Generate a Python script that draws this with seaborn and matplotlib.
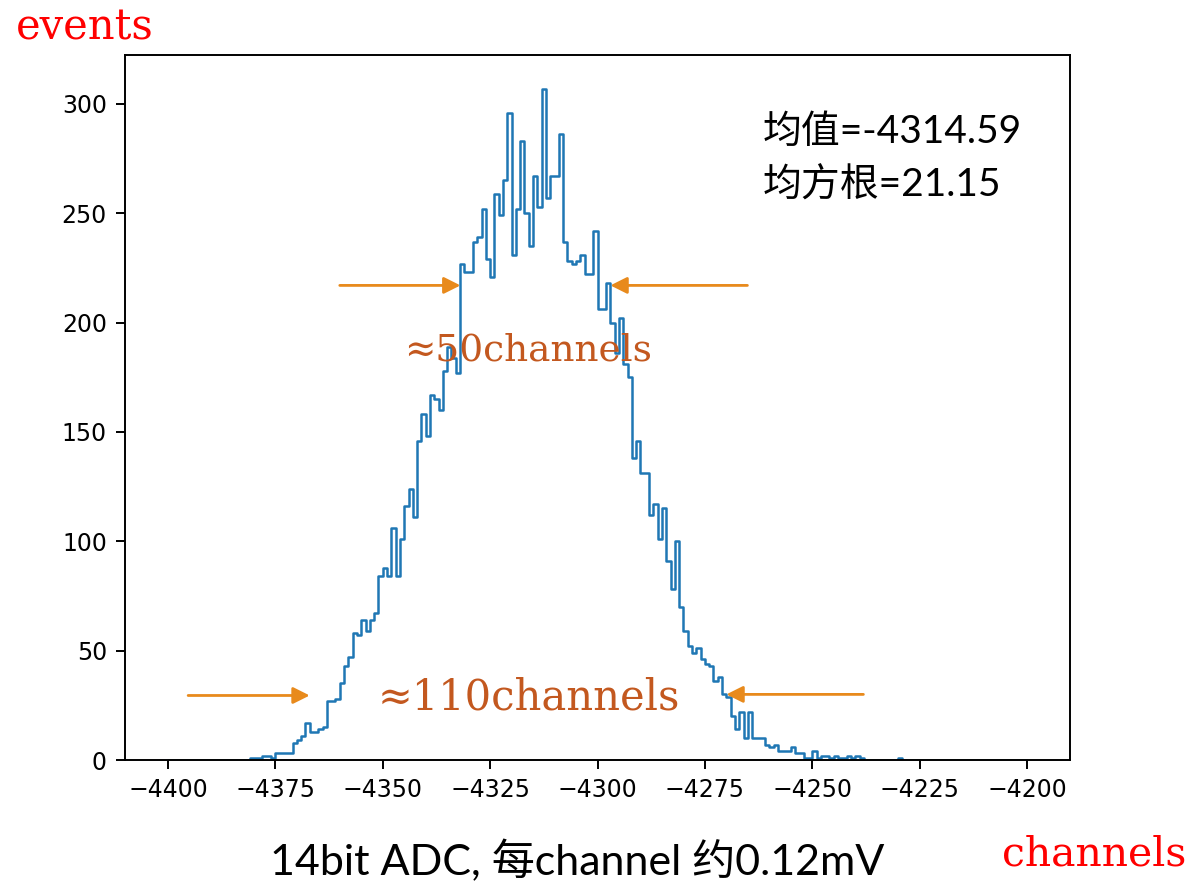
import numpy as np
import pandas as pd
import matplotlib
matplotlib.use("Agg")
import matplotlib.pyplot as plt
import seaborn as sns

# ---------------- data ----------------
first_channel = -4381
counts = [
    1, 1, 1, 2, 2, 1, 3, 3, 3, 3,                 # -4381 .. -4372
    8, 9, 11, 17, 13, 13, 14, 15, 27, 27,         # -4371 .. -4362
    28, 35, 43, 47, 58, 57, 64, 59, 64, 67,       # -4361 .. -4352
    84, 88, 84, 106, 84, 101, 116, 124, 111, 146, # -4351 .. -4342
    158, 148, 167, 165, 160, 178, 189, 184, 177, 227,  # -4341 .. -4332
    223, 223, 237, 239, 252, 229, 221, 259, 249, 265,  # -4331 .. -4322
    296, 231, 252, 283, 250, 235, 267, 253, 307, 257,  # -4321 .. -4312
    267, 267, 286, 237, 228, 227, 228, 231, 222, 222,  # -4311 .. -4302
    242, 206, 206, 218, 200, 186, 202, 181, 175, 138,  # -4301 .. -4292
    146, 131, 131, 112, 117, 101, 115, 91, 78, 100,    # -4291 .. -4282
    70, 59, 52, 49, 51, 46, 44, 43, 36, 38,            # -4281 .. -4272
    30, 29, 20, 14, 22, 10, 22, 10, 10, 10,            # -4271 .. -4262
    7, 6, 7, 4, 4, 4, 6, 3, 3, 1,                      # -4261 .. -4252
    1, 4, 1, 2, 2, 1, 2, 1, 1, 2,                      # -4251 .. -4242
    1, 2, 1, 0, 0, 0, 0, 0, 0, 0,                      # -4241 .. -4232
    0, 1,                                              # -4231 .. -4230
]
channels = np.arange(first_channel, first_channel + len(counts))
hist_range = [-4400, -4200]
x_ticks = [-4400, -4375, -4350, -4325, -4300, -4275, -4250, -4225, -4200]
y_ticks = [0, 50, 100, 150, 200, 250, 300]

mean_label = "均值=-4314.59"
rms_label = "均方根=21.15"
x_caption = "14bit ADC, 每channel 约0.12mV"
y_unit = "events"
x_unit = "channels"
fwhm_label = "≈50channels"
fwtm_label = "≈110channels"
# arrow (tail, tip) pairs in data units
fwhm_arrows = [((-4360.0, 217), (-4331.9, 217)), ((-4265.1, 217), (-4297.0, 217))]
fwtm_arrows = [((-4395.3, 29.5), (-4367.0, 29.5)), ((-4238.1, 30), (-4270.0, 30))]

# ---------------- style ----------------
W, H = 1194, 881
sns.set_theme(style="ticks", rc={
    "axes.edgecolor": "black",
    "axes.linewidth": 1.4,
    "xtick.color": "black",
    "ytick.color": "black",
    "xtick.major.size": 6.5,
    "ytick.major.size": 6.5,
    "xtick.major.width": 1.4,
    "ytick.major.width": 1.4,
    "xtick.major.pad": 6.5,
    "ytick.major.pad": 6.5,
    "xtick.labelsize": 17,
    "ytick.labelsize": 17,
})
plt.rcParams["font.family"] = ["DejaVu Sans"]

fig = plt.figure(figsize=(W / 100, H / 100), dpi=100)
fig.patch.set_facecolor("white")
ax = fig.add_axes([125 / W, 1 - 760 / H, (1070 - 125) / W, (760 - 55) / H])

df = pd.DataFrame({"channel": channels + 0.5, "count": counts})
sns.histplot(data=df, x="channel", weights="count", binwidth=1,
             binrange=(hist_range[0], hist_range[1]), element="step",
             fill=False, color="#1f77b4", linewidth=1.8, ax=ax)

ax.set_xlim(-4410, -4190)
ax.set_ylim(0, max(counts) * 1.05)
ax.set_xticks(x_ticks)
ax.set_yticks(y_ticks)
ax.set_xlabel("")
ax.set_ylabel("")
for s in ax.spines.values():
    s.set_visible(True)

orange = "#E88A1C"
brown = "#C3581F"
for tail, tip in fwhm_arrows + fwtm_arrows:
    ax.annotate("", xy=tip, xytext=tail,
                arrowprops=dict(arrowstyle="-|>", color=orange, lw=2.0,
                                mutation_scale=25, shrinkA=0, shrinkB=0))

ax.text(-4316.3, 182.6, fwhm_label, color=brown, family="DejaVu Serif",
        fontsize=27, ha="center", va="baseline")
ax.text(-4316.0, 23.3, fwtm_label, color=brown, family="DejaVu Serif",
        fontsize=30, ha="center", va="baseline")

def fx(px):
    return px / W

def fy(py):
    return 1 - py / H

cjk = ["Lato", "Noto Sans CJK SC", "DejaVu Sans"]
fig.text(fx(763), fy(143), mean_label, family=cjk, fontsize=28,
         ha="left", va="baseline", color="black")
fig.text(fx(763), fy(197), rms_label, family=cjk, fontsize=28,
         ha="left", va="baseline", color="black")
fig.text(fx(577), fy(875), x_caption, family=cjk, fontsize=31,
         ha="center", va="baseline", color="black")
fig.text(fx(16), fy(40), y_unit, family="DejaVu Serif", fontsize=30,
         ha="left", va="baseline", color="red")
fig.text(fx(1002), fy(866), x_unit, family="DejaVu Serif", fontsize=29.5,
         ha="left", va="baseline", color="red")

fig.savefig("out.png", dpi=100, facecolor="white")
